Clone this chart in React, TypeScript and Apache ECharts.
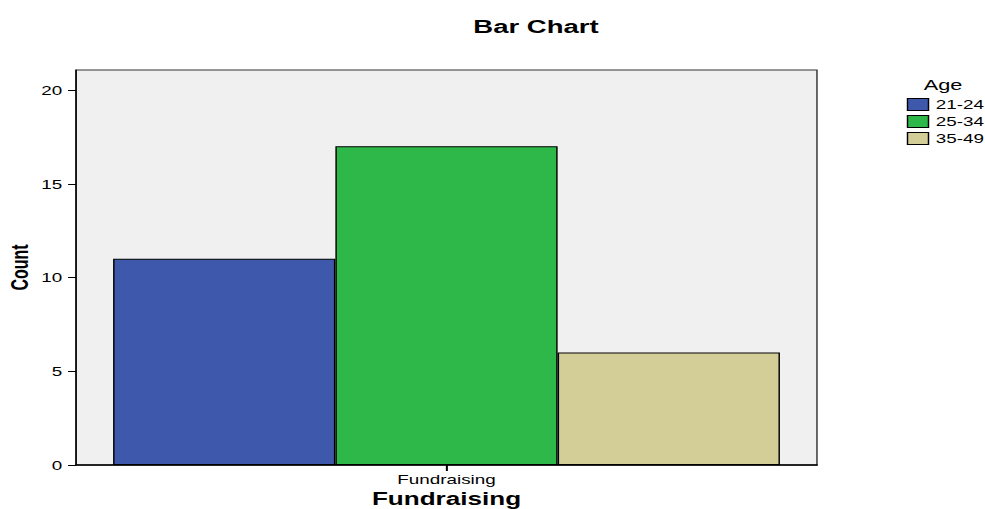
import React, { useEffect, useRef } from "react";
import * as echarts from "echarts";

const categories = ["Fundraising"];
const seriesNames = ["21-24", "25-34", "35-49"];
const seriesValues = [[11], [17], [6]];
const seriesColors = ["#3e58ac", "#2fb84a", "#d3ce98"];
const yTicks = [0, 5, 10, 15, 20];

// The reference is horizontally stretched; draw at a narrower width and stretch.
const OUT_W = 985;
const IN_W = 680;
const SX = OUT_W / IN_W;

export default function App() {
  const ref = useRef<HTMLDivElement>(null);
  useEffect(() => {
    if (!ref.current) return;
    const chart = echarts.init(ref.current, null, { renderer: "svg" });
    const font = "Liberation Sans, Arial, sans-serif";
    chart.setOption({
      animation: false,
      backgroundColor: "#ffffff",
      title: {
        text: "Bar Chart",
        left: 365,
        top: 12,
        textAlign: "center",
        textStyle: { fontFamily: font, fontSize: 19, fontWeight: "bold", color: "#000" },
      },
      legend: {
        orient: "vertical",
        left: 621,
        top: 93,
        itemWidth: 14.5,
        itemHeight: 12,
        itemGap: 4,
        icon: "rect",
        textStyle: { fontFamily: font, fontSize: 13, color: "#000" },
        itemStyle: { borderColor: "#000", borderWidth: 1 },
        data: seriesNames,
      },
      graphic: [
        {
          type: "text",
          x: 651,
          y: 85,
          style: { text: "Age", font: "15px " + font, fill: "#000", align: "center", verticalAlign: "middle" },
        },
      ],
      grid: {
        left: 52.5,
        right: 116,
        top: 70,
        bottom: 44,
        show: true,
        containLabel: false,
        outerBoundsMode: "none",
        backgroundColor: "#f0f0f0",
        borderColor: "#333",
        borderWidth: 1,
      },
      xAxis: {
        type: "category",
        data: categories,
        name: "Fundraising",
        nameLocation: "middle",
        nameGap: 25,
        nameMoveOverlap: false,
        nameTextStyle: { fontFamily: font, fontSize: 18, fontWeight: "bold", color: "#000" },
        axisLine: { show: true, lineStyle: { color: "#000", width: 1.5 } },
        axisTick: { show: true, alignWithLabel: true, length: 6, lineStyle: { color: "#000", width: 1.4 } },
        axisLabel: { fontFamily: font, fontSize: 13, color: "#000", margin: 8 },
        splitLine: { show: false },
      },
      yAxis: {
        type: "value",
        min: 0,
        max: 21.07,
        interval: 5,
        name: "Count",
        nameLocation: "middle",
        nameGap: 31,
        nameMoveOverlap: false,
        nameRotate: 90,
        nameTextStyle: { fontFamily: font, fontSize: 16, fontWeight: "bold", color: "#000" },
        axisLine: { show: true, lineStyle: { color: "#000", width: 1 } },
        axisTick: { show: true, length: 5.5, customValues: yTicks, lineStyle: { color: "#000", width: 1 } },
        axisLabel: {
          fontFamily: font,
          fontSize: 13,
          color: "#000",
          margin: 9.5,
          customValues: yTicks,
        },
        splitLine: { show: false },
      },
      series: seriesNames.map((name, i) => ({
        name,
        type: "bar",
        data: seriesValues[i],
        barGap: "0%",
        barCategoryGap: "10%",
        itemStyle: { color: seriesColors[i], borderColor: "#000", borderWidth: 1 },
      })),
    });
    return () => chart.dispose();
  }, []);
  return (
    <div
      ref={ref}
      style={{
        position: "fixed",
        left: 0,
        top: 0,
        width: IN_W,
        height: 509,
        transform: `scaleX(${SX})`,
        transformOrigin: "0 0",
      }}
    />
  );
}
